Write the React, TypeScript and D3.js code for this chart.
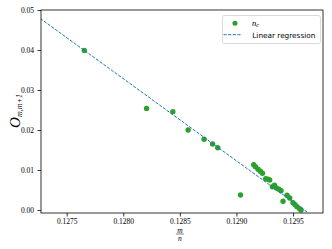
import * as d3 from "d3";
import { useEffect, useRef } from "react";

// m/n values and O_{m,m+1} values
const ratioX = [
  0.12724, 0.127656, 0.128206, 0.128438, 0.128573, 0.128714, 0.128789, 0.128835,
  0.129036, 0.129153, 0.129168, 0.129191, 0.129212, 0.12923, 0.129259, 0.129279,
  0.129294, 0.129318, 0.129336, 0.129353, 0.129376, 0.129394, 0.129412, 0.129447,
  0.129471, 0.1295, 0.129518, 0.129535, 0.129559, 0.129571,
];
const overlapY = [
  0.0502, 0.0399, 0.0254, 0.02458, 0.02, 0.01767, 0.0165, 0.01558,
  0.00375, 0.01133, 0.01083, 0.01018, 0.00968, 0.00918, 0.00783, 0.00768,
  0.0075, 0.00583, 0.00618, 0.0055, 0.00518, 0.00483, 0.00218, 0.00368,
  0.003, 0.00183, 0.00133, 0.00083, 0.00033, 0.0,
];

// fitted line
const regSlope = -20.53;
const regIntercept = 2.66067;
const regRange = [0.1272, 0.129632];

const xTicks = [0.1275, 0.128, 0.1285, 0.129, 0.1295];
const yTicks = [0, 0.01, 0.02, 0.03, 0.04, 0.05];

const legendLabels = ["n", "Linear regression"];

function App() {
  const ref = useRef<SVGSVGElement | null>(null);

  useEffect(() => {
    const width = 332, height = 249;
    const margin = { top: 10, right: 9, bottom: 36, left: 41 };

    const svg = d3.select(ref.current);
    svg.selectAll("*").remove();
    svg.attr("width", width).attr("height", height);

    const x = d3.scaleLinear()
      .domain([0.127273, 0.129765])
      .range([margin.left, width - margin.right]);
    const y = d3.scaleLinear()
      .domain([-0.00075, 0.05])
      .range([height - margin.bottom, margin.top]);

    svg.append("defs").append("clipPath").attr("id", "plotclip")
      .append("rect")
      .attr("x", margin.left).attr("y", margin.top)
      .attr("width", width - margin.left - margin.right)
      .attr("height", height - margin.top - margin.bottom);

    const plot = svg.append("g").attr("clip-path", "url(#plotclip)");

    // points
    plot.selectAll("circle")
      .data(ratioX.map((v, i) => [v, overlapY[i]]))
      .enter()
      .append("circle")
      .attr("cx", d => x(d[0]))
      .attr("cy", d => y(d[1]))
      .attr("r", 2.7)
      .attr("fill", "#2ca02c");

    // regression line
    const line = d3.line<number>()
      .x(d => x(d))
      .y(d => y(regSlope * d + regIntercept));
    plot.append("path")
      .datum(regRange)
      .attr("d", line)
      .attr("fill", "none")
      .attr("stroke", "#1f77b4")
      .attr("stroke-width", 1)
      .attr("stroke-dasharray", "3.2,1.4");

    const tickFont = "'Liberation Serif', serif";

    // axes
    const xAxis = svg.append("g")
      .attr("transform", `translate(0,${height - margin.bottom})`)
      .call(d3.axisBottom(x).tickValues(xTicks).tickFormat(d3.format(".4f")).tickSize(3.5).tickPadding(2.5));
    const yAxis = svg.append("g")
      .attr("transform", `translate(${margin.left},0)`)
      .call(d3.axisLeft(y).tickValues(yTicks).tickFormat(d3.format(".2f")).tickSize(3.5).tickPadding(3.5));
    [xAxis, yAxis].forEach(a => {
      a.select(".domain").remove();
      a.selectAll("line").attr("stroke", "#000").attr("stroke-width", 0.8);
      a.selectAll("text").attr("font-family", tickFont).attr("font-size", 7.5).attr("fill", "#000");
    });

    // frame
    svg.append("rect")
      .attr("x", margin.left).attr("y", margin.top)
      .attr("width", width - margin.left - margin.right)
      .attr("height", height - margin.top - margin.bottom)
      .attr("fill", "none")
      .attr("stroke", "#000")
      .attr("stroke-width", 0.8);

    // x label: m over n
    const cx = x(0.1285);
    svg.append("text").attr("x", cx).attr("y", 232.6).attr("text-anchor", "middle")
      .attr("font-family", tickFont).attr("font-style", "italic").attr("font-size", 7.5).text("m");
    svg.append("line").attr("x1", cx - 4).attr("x2", cx + 4).attr("y1", 234).attr("y2", 234)
      .attr("stroke", "#000").attr("stroke-width", 0.5);
    svg.append("text").attr("x", cx).attr("y", 240.8).attr("text-anchor", "middle")
      .attr("font-family", tickFont).attr("font-style", "italic").attr("font-size", 7.5).text("n");

    // y label
    const yl = svg.append("text")
      .attr("transform", "translate(19.5,111) rotate(-90)")
      .attr("text-anchor", "middle")
      .attr("font-family", tickFont)
      .attr("font-style", "italic");
    yl.append("tspan").attr("font-size", 15).text("O");
    yl.append("tspan").attr("font-size", 8).attr("dy", 2.5).text("m,m+1");

    // legend
    const lg = svg.append("g");
    lg.append("rect")
      .attr("x", 222.5).attr("y", 15.5).attr("width", 98).attr("height", 28)
      .attr("rx", 2).attr("fill", "#fff").attr("fill-opacity", 0.8)
      .attr("stroke", "#d0d0d0").attr("stroke-width", 0.8);
    lg.append("circle").attr("cx", 235).attr("cy", 23.3).attr("r", 2.5).attr("fill", "#2ca02c");
    const t1 = lg.append("text").attr("x", 252).attr("y", 25.5)
      .attr("font-family", tickFont).attr("font-style", "italic").attr("font-size", 8.5);
    t1.append("tspan").text(legendLabels[0]);
    t1.append("tspan").attr("font-size", 6).attr("dy", 1.5).text("c");
    lg.append("line").attr("x1", 223.5).attr("x2", 242).attr("y1", 34.7).attr("y2", 34.7)
      .attr("stroke", "#1f77b4").attr("stroke-width", 1).attr("stroke-dasharray", "3.2,1.4");
    lg.append("text").attr("x", 252.3).attr("y", 37.5)
      .attr("font-family", "'DejaVu Sans', sans-serif").attr("font-size", 7.3)
      .text(legendLabels[1]);
  }, []);

  return <svg ref={ref} style={{ position: "absolute", left: 0, top: 0 }}></svg>;
}

export default App;
